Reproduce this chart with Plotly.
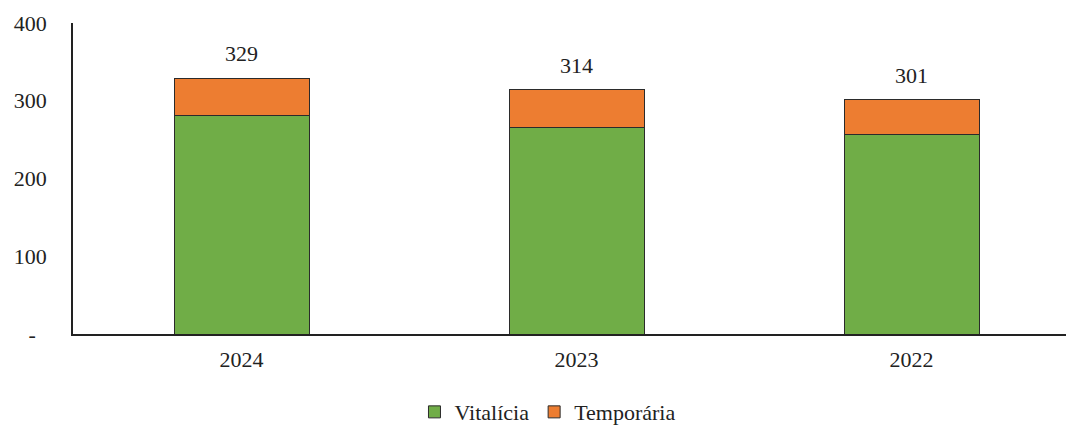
import plotly.graph_objects as go

years = ["2024", "2023", "2022"]
vitalicia = [281, 266, 256]
temporaria = [48, 48, 45]
totals = [329, 314, 301]
y_tickvals = [0, 100, 200, 300, 400]
y_ticktext = ["-\u00a0\u00a0", "100", "200", "300", "400"]

FONT = "Liberation Serif"
FS = 22

fig = go.Figure()
fig.add_trace(go.Bar(
    name="Vitalícia", x=years, y=vitalicia,
    marker=dict(color="#70AD47", line=dict(color="#2b2b2b", width=1)),
    width=0.403,
))
fig.add_trace(go.Bar(
    name="Temporária", x=years, y=temporaria,
    marker=dict(color="#ED7D31", line=dict(color="#2b2b2b", width=1)),
    width=0.403,
))

for i, t in enumerate(totals):
    fig.add_annotation(x=i, y=t, xref="x", yref="y", text=str(t), showarrow=False,
                       yanchor="bottom", yshift=10,
                       font=dict(family=FONT, size=FS, color="#222"))

fig.update_layout(
    barmode="stack",
    width=1066, height=418,
    margin=dict(l=65, r=0, t=15, b=92, autoexpand=False),
    paper_bgcolor="white", plot_bgcolor="white",
    font=dict(family=FONT, size=FS, color="#222"),
    showlegend=True,
    legend=dict(orientation="h", x=0.474, xanchor="center", y=-0.251, yanchor="middle",
                font=dict(family=FONT, size=FS, color="#222"),
                traceorder="normal"),
    xaxis=dict(type="category", range=[-0.503, 2.485], showline=True,
               linecolor="#222", linewidth=1.5, ticks="", showgrid=False,
               automargin=False, ticklabelstandoff=5, tickfont=dict(family=FONT, size=FS)),
    yaxis=dict(range=[0, 400], tickvals=y_tickvals, ticktext=y_ticktext,
               showline=True, linecolor="#222", linewidth=1.5, ticks="",
               showgrid=False, zeroline=False, ticklabelstandoff=20,
               automargin=False, tickfont=dict(family=FONT, size=FS)),
)

fig.write_html("out.html")
